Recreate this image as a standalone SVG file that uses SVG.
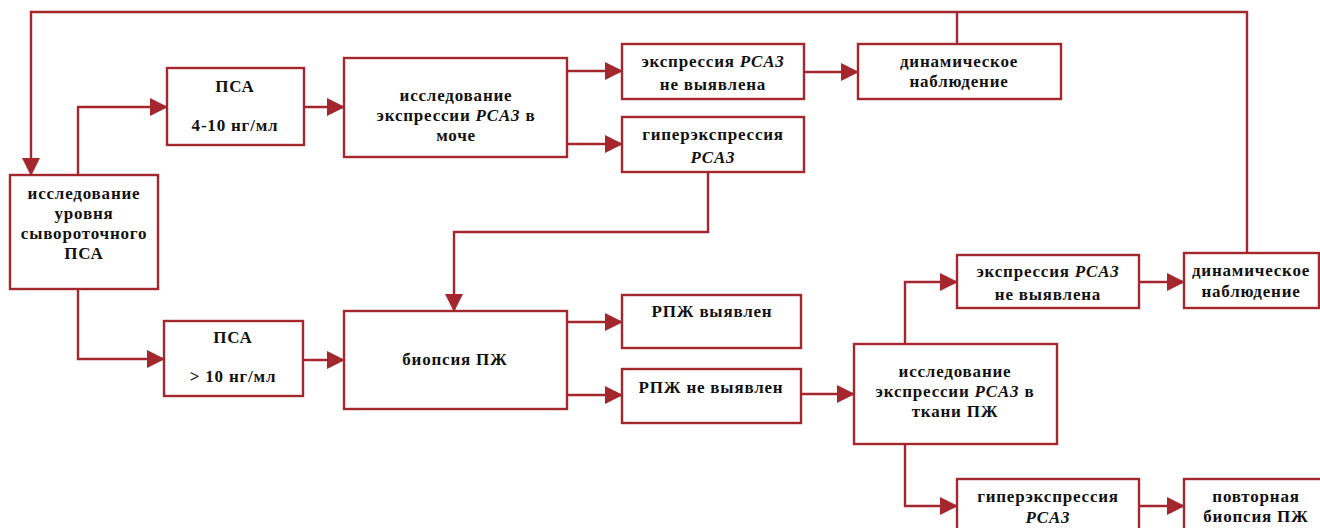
<svg xmlns="http://www.w3.org/2000/svg" width="1320" height="528" viewBox="0 0 1320 528">
<style>
.n rect{fill:#fff;stroke:#a3272d;stroke-width:2.4}
.n text{font-family:"Liberation Serif","Times New Roman",serif;font-weight:bold;font-size:17px;letter-spacing:0.8px;text-anchor:middle;fill:#111}
.i{font-style:italic}
.c path{fill:none;stroke:#a3272d;stroke-width:2.4}
</style>
<defs>
<marker id="ah" viewBox="0 0 18 18" refX="17" refY="9" markerWidth="18" markerHeight="18" markerUnits="userSpaceOnUse" orient="auto">
<path d="M0,0 L18,9 L0,18 Z" fill="#a3272d"/>
</marker>
</defs>
<rect width="1320" height="528" fill="#fff"/>
<g class="c">
<path d="M1247,253 V12 H31 V175" marker-end="url(#ah)"/>
<path d="M957,44 V12"/>
<path d="M78,175 V107 H167" marker-end="url(#ah)"/>
<path d="M78,289 V359 H164" marker-end="url(#ah)"/>
<path d="M304,107 H344" marker-end="url(#ah)"/>
<path d="M303,360 H344" marker-end="url(#ah)"/>
<path d="M567,71 H622" marker-end="url(#ah)"/>
<path d="M567,144 H622" marker-end="url(#ah)"/>
<path d="M804,72 H858" marker-end="url(#ah)"/>
<path d="M708,172 V232 H454 V311" marker-end="url(#ah)"/>
<path d="M567,322 H622" marker-end="url(#ah)"/>
<path d="M567,395 H622" marker-end="url(#ah)"/>
<path d="M801,394 H854" marker-end="url(#ah)"/>
<path d="M905,344 V282 H957" marker-end="url(#ah)"/>
<path d="M1139,282 H1184" marker-end="url(#ah)"/>
<path d="M905,444 V506 H957" marker-end="url(#ah)"/>
<path d="M1139,506 H1184" marker-end="url(#ah)"/>
</g>
<g id="psa-level" class="n"><rect x="10" y="175" width="148" height="114"/>
<text x="84" y="199">исследование</text><text x="84" y="219">уровня</text><text x="84" y="239">сывороточного</text><text x="84" y="259">ПСА</text></g>
<g id="psa-4-10" class="n"><rect x="167" y="68" width="137" height="77"/>
<text x="235" y="92">ПСА</text><text x="235" y="131">4-10 нг/мл</text></g>
<g id="pca3-urine" class="n"><rect x="344" y="58" width="223" height="99"/>
<text x="456" y="101">исследование</text><text x="456" y="121">экспрессии <tspan class="i">PCA3</tspan> в</text><text x="456" y="141">моче</text></g>
<g id="pca3-neg-1" class="n"><rect x="622" y="44" width="182" height="55"/>
<text x="713" y="67">экспрессия <tspan class="i">PCA3</tspan></text><text x="713" y="90">не выявлена</text></g>
<g id="pca3-hyper-1" class="n"><rect x="622" y="117" width="182" height="55"/>
<text x="713" y="140">гиперэкспрессия</text><text x="713" y="163" class="i">PCA3</text></g>
<g id="watch-1" class="n"><rect x="858" y="44" width="203" height="55"/>
<text x="959" y="67">динамическое</text><text x="959" y="87">наблюдение</text></g>
<g id="psa-gt10" class="n"><rect x="164" y="321" width="139" height="75"/>
<text x="233" y="343">ПСА</text><text x="233" y="382">&gt; 10 нг/мл</text></g>
<g id="biopsy" class="n"><rect x="344" y="311" width="223" height="98"/>
<text x="455" y="365">биопсия ПЖ</text></g>
<g id="cancer-pos" class="n"><rect x="622" y="295" width="179" height="53"/>
<text x="712" y="317">РПЖ выявлен</text></g>
<g id="cancer-neg" class="n"><rect x="622" y="369" width="179" height="54"/>
<text x="711" y="393">РПЖ не выявлен</text></g>
<g id="pca3-tissue" class="n"><rect x="854" y="344" width="203" height="100"/>
<text x="955" y="377">исследование</text><text x="955" y="397">экспрессии <tspan class="i">PCA3</tspan> в</text><text x="955" y="417">ткани ПЖ</text></g>
<g id="pca3-neg-2" class="n"><rect x="957" y="255" width="182" height="53"/>
<text x="1048" y="277">экспрессия <tspan class="i">PCA3</tspan></text><text x="1048" y="300">не выявлена</text></g>
<g id="watch-2" class="n"><rect x="1184" y="253" width="135" height="55"/>
<text x="1251" y="276">динамическое</text><text x="1251" y="297">наблюдение</text></g>
<g id="pca3-hyper-2" class="n"><rect x="957" y="479" width="182" height="60"/>
<text x="1048" y="502">гиперэкспрессия</text><text x="1048" y="523" class="i">PCA3</text></g>
<g id="rebiopsy" class="n"><rect x="1184" y="479" width="145" height="60"/>
<text x="1256" y="502">повторная</text><text x="1256" y="522">биопсия ПЖ</text></g>
</svg>
